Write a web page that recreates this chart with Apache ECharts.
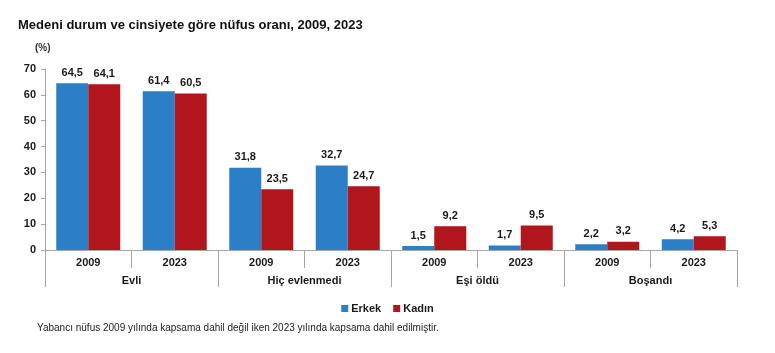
<!DOCTYPE html>
<html>
<head>
<meta charset="utf-8">
<script src="https://cdn.jsdelivr.net/npm/echarts@6/dist/echarts.min.js"></script>
<style>
  html, body { margin: 0; padding: 0; background: #fff; }
  #chart { width: 775px; height: 353px; }
</style>
</head>
<body>
<div id="chart"></div>
<script>
// yıllar (alt eksen) ve medeni durum grupları
var years = ['2009', '2023', '2009', '2023', '2009', '2023', '2009', '2023'];
var groups = ['Evli', 'Hiç evlenmedi', 'Eşi öldü', 'Boşandı'];
// oranlar (%)
var erkek = [64.5, 61.4, 31.8, 32.7, 1.5, 1.7, 2.2, 4.2];
var kadin = [64.1, 60.5, 23.5, 24.7, 9.2, 9.5, 3.2, 5.3];

var txt = '#1a1a1a';
var lineColor = '#a6a6a6';

var myChart = echarts.init(document.getElementById('chart'));

function lbl(p) {
    return String(p.value).replace('.', ',');
}

var option = {
    animation: false,
    title: [
        {
            text: 'Medeni durum ve cinsiyete göre nüfus oranı, 2009, 2023',
            left: 13, top: 14,
            textStyle: { fontFamily: 'Liberation Sans', fontSize: 13, fontWeight: 'bold', color: '#111' }
        },
        {
            text: '(%)',
            left: 30, top: 38,
            textStyle: { fontFamily: 'Liberation Sans', fontSize: 10, fontWeight: 'bold', color: '#333' }
        }
    ],
    legend: {
        bottom: 34,
        left: 'center',
        itemWidth: 7, itemHeight: 7,
        itemGap: 12,
        icon: 'rect',
        textStyle: { fontFamily: 'Liberation Sans', fontSize: 11, fontWeight: 'bold', color: txt, padding: [0, 0, 0, -2] },
        data: ['Erkek', 'Kadın']
    },
    graphic: [{
        type: 'text',
        left: 37, top: 323,
        style: {
            text: 'Yabancı nüfus 2009 yılında kapsama dahil değil iken 2023 yılında kapsama dahil edilmiştir.',
            font: '10px "Liberation Sans"',
            fill: '#222'
        }
    }],
    grid: { left: 45, right: 38, top: 69, bottom: 103 },
    xAxis: [
        {
            type: 'category',
            data: years,
            axisLine: { show: true, lineStyle: { color: lineColor } },
            axisTick: { show: true, alignWithLabel: false, length: 18, lineStyle: { color: lineColor } },
            axisLabel: { margin: 7, fontFamily: 'Liberation Sans', fontSize: 11, fontWeight: 'bold', color: txt }
        },
        {
            type: 'category',
            position: 'bottom',
            data: groups,
            axisLine: { show: false },
            axisTick: { show: true, alignWithLabel: false, length: 37, lineStyle: { color: lineColor } },
            axisLabel: { margin: 25, fontFamily: 'Liberation Sans', fontSize: 11, fontWeight: 'bold', color: txt }
        }
    ],
    yAxis: {
        type: 'value',
        min: 0, max: 70, interval: 10,
        splitLine: { show: false },
        axisLine: { show: true, lineStyle: { color: lineColor } },
        axisTick: { show: true, length: 4, lineStyle: { color: lineColor } },
        axisLabel: { margin: 9, fontFamily: 'Liberation Sans', fontSize: 11, fontWeight: 'bold', color: txt }
    },
    series: [
        {
            name: 'Erkek',
            type: 'bar',
            data: erkek,
            barWidth: 32,
            barGap: '0%',
            itemStyle: { color: '#2a7fc6' },
            label: { show: true, position: 'top', distance: 5, formatter: lbl,
                fontFamily: 'Liberation Sans', fontSize: 11, fontWeight: 'bold', color: txt }
        },
        {
            name: 'Kadın',
            type: 'bar',
            data: kadin,
            barWidth: 32,
            barGap: '0%',
            itemStyle: { color: '#b0161b' },
            label: { show: true, position: 'top', distance: 5, formatter: lbl,
                fontFamily: 'Liberation Sans', fontSize: 11, fontWeight: 'bold', color: txt }
        }
    ]
};

myChart.setOption(option);
</script>
</body>
</html>
